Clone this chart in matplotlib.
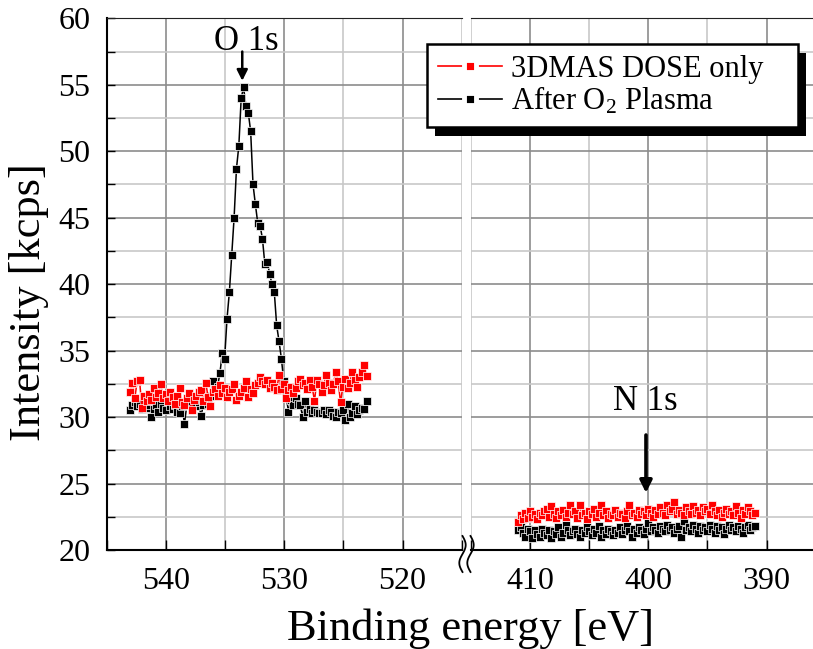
import numpy as np
import matplotlib
matplotlib.use('Agg')
import matplotlib.pyplot as plt
from matplotlib.lines import Line2D
from matplotlib.patches import Rectangle
from matplotlib.ticker import MultipleLocator

plt.rcParams['font.family'] = ['Liberation Serif', 'DejaVu Serif']
plt.rcParams['mathtext.default'] = 'regular'

# ---------------- data ----------------
# O 1s region, 0.2 eV step from 543.05 down to 523.05 eV
o1s_energy = np.arange(543.05, 523.0, -0.2)
o1s_dose = [31.9, 32.6, 31.4, 32.7, 32.8, 30.7, 31.6, 31.2, 31.7, 31.3,
            32.2, 31.5, 31.8, 32.5, 31.4, 31.7, 31.2, 31.9, 31.5, 31.0,
            31.6, 32.2, 31.1, 30.9, 31.4, 31.8, 30.5, 31.3, 31.6, 31.9,
            32.0, 31.2, 32.6, 31.5, 30.8, 31.9, 32.1, 31.6, 32.4, 31.8,
            32.2, 31.5, 31.9, 32.1, 32.5, 31.3, 31.6, 31.9, 32.2, 32.7,
            31.5, 32.1, 31.8, 32.4, 32.6, 33.0, 32.7, 32.5, 32.8, 32.2,
            32.6, 32.3, 32.0, 33.2, 32.1, 32.5, 31.4, 32.0, 32.3, 31.8,
            32.2, 32.7, 32.9, 32.4, 32.6, 32.1, 32.8, 32.3, 31.2, 32.8,
            32.5, 31.9, 32.4, 33.2, 32.6, 32.0, 32.5, 33.4, 32.7, 31.1,
            32.3, 32.9, 32.2, 32.6, 33.4, 32.8, 32.3, 33.0, 33.4, 33.9,
            33.1]
o1s_plasma = [30.5, 30.9, 31.1, 30.8, 31.0, 30.6, 31.0, 30.7, 30.9, 30.0,
              30.6, 30.9, 30.4, 31.0, 30.7, 30.5, 31.2, 30.8, 30.6, 30.9,
              30.4, 30.3, 30.8, 29.5, 30.9, 31.0, 30.6, 31.3, 30.8, 31.1,
              30.1, 30.9, 31.2, 31.0, 31.6, 32.7, 31.9, 32.3, 33.3, 34.8,
              34.4, 37.4, 39.4, 42.2, 45.0, 48.7, 50.4, 54.0, 54.8, 53.4,
              52.9, 51.5, 47.5, 46.0, 44.6, 44.4, 43.4, 41.5, 41.7, 40.8,
              40.0, 39.4, 36.9, 35.7, 34.4, 32.7, 31.6, 30.4, 31.3, 30.9,
              31.4, 31.0, 30.9, 30.0, 31.2, 30.4, 30.6, 30.3, 30.5, 30.4,
              30.3, 30.3, 30.5, 30.2, 30.5, 30.4, 30.1, 30.0, 30.4, 30.3,
              30.5, 29.8, 31.0, 30.0, 30.3, 30.8, 30.2, 30.5, 30.7, 30.6,
              31.2]

# N 1s region, 0.2 eV step from 411.0 down to 391.0 eV
n1s_energy = np.arange(411.0, 390.9, -0.2)
n1s_dose = [22.1, 22.6, 22.3, 22.8, 22.4, 22.9, 22.5, 22.7, 22.3, 22.8,
            22.6, 22.9, 23.1, 22.5, 23.3, 22.7, 22.4, 22.9, 22.6, 23.0,
            22.5, 22.8, 23.4, 22.7, 22.9, 22.4, 23.4, 22.6, 22.8, 22.3,
            22.9, 22.7, 23.1, 22.5, 22.8, 23.4, 22.6, 22.9, 22.4, 22.7,
            22.6, 23.0, 22.5, 22.8, 22.7, 22.4, 22.9, 23.4, 22.6, 22.8,
            22.5, 23.0, 22.7, 22.9, 22.6, 23.1, 22.8, 22.5, 23.0, 22.7,
            23.2, 22.8, 22.6, 23.4, 22.9, 23.1, 23.6, 22.7, 23.0, 22.8,
            22.6, 23.2, 22.9, 22.7, 23.3, 22.8, 23.0, 22.6, 23.2, 22.9,
            23.1, 22.7, 23.4, 22.9, 22.6, 23.0, 22.5, 22.8, 23.1, 22.7,
            22.9, 22.6, 23.3, 22.8, 22.4, 23.0, 22.7, 23.2, 22.9, 22.6,
            22.8]
n1s_plasma = [21.5, 21.7, 21.3, 21.0, 21.6, 21.4, 20.9, 21.5, 21.2, 21.0,
              21.6, 21.3, 21.1, 21.5, 20.9, 21.4, 21.2, 21.7, 21.0, 21.3,
              21.9, 21.5, 21.1, 21.4, 21.6, 21.2, 21.0, 21.5, 21.3, 21.7,
              21.4, 21.1, 21.6, 21.3, 21.8, 21.0, 21.5, 21.2, 21.6, 21.4,
              21.1, 21.5, 21.3, 21.7, 21.2, 21.5, 21.8, 21.4, 21.0, 21.6,
              21.3, 21.7, 21.5, 21.2, 21.6, 22.0, 21.4, 21.7, 21.5, 21.3,
              21.8, 21.6, 21.4, 21.9, 21.5, 21.7, 21.3, 21.6, 21.8, 21.0,
              22.2, 21.5, 21.7, 21.4, 21.9, 21.6, 21.3, 21.8, 21.5, 21.7,
              21.4, 21.9, 21.6, 21.3, 21.8, 21.5, 21.7, 21.2, 21.6, 21.9,
              21.5, 21.7, 21.4, 21.8, 21.6, 21.3, 21.7, 21.9, 21.5, 21.75,
              21.8]

labels = ['3DMAS DOSE only', 'After O$_2$ Plasma']
colors = ['#ff0000', '#000000']

# ---------------- figure ----------------
W, H = 813, 649
fig = plt.figure(figsize=(W / 100, H / 100), dpi=100)
bot = (H - 550) / H
hgt = (550 - 18.3) / H
axL = fig.add_axes([107 / W, bot, 354.7 / W, hgt])
axR = fig.add_axes([471 / W, bot, 354.7 / W, hgt])

mk = dict(marker='s', ms=5.4, mec='white', mew=0.5, lw=1.1)
axL.plot(o1s_energy, o1s_plasma, color=colors[1], zorder=3, **mk)
axL.plot(o1s_energy, o1s_dose, color=colors[0], zorder=4, **mk)
axR.plot(n1s_energy, n1s_plasma, color=colors[1], zorder=3, **mk)
axR.plot(n1s_energy, n1s_dose, color=colors[0], zorder=4, **mk)

axL.set_xlim(545, 515)
axR.set_xlim(415, 385)
for ax in (axL, axR):
    ax.set_ylim(20, 60)
    ax.xaxis.set_major_locator(MultipleLocator(10))
    ax.xaxis.set_minor_locator(MultipleLocator(5))
    ax.yaxis.set_major_locator(MultipleLocator(5))
    ax.yaxis.set_minor_locator(MultipleLocator(2.5))
    ax.grid(which='major', color='#8c8c8c', lw=1.2, zorder=0)
    ax.grid(which='minor', color='#c8c8c8', lw=1.2, zorder=0)
    ax.set_axisbelow(True)
    ax.tick_params(axis='x', which='both', direction='in', length=7,
                   width=1, labelsize=23, pad=12, top=False)
    ax.spines['top'].set_color('#222222')
    ax.spines['bottom'].set_linewidth(1.5)
    ax.spines['right'].set_visible(False)

axL.tick_params(axis='y', which='both', direction='in', length=6,
                width=1, labelsize=23, pad=12, right=False)
axL.spines['left'].set_linewidth(1.5)
axR.spines['left'].set_visible(False)
axR.tick_params(axis='y', which='both', left=False, labelleft=False)

# peak labels and arrows
axL.text(533.2, 57.6, 'O 1s', fontsize=25, ha='center', va='baseline')
axL.annotate('', xy=(533.56, 55.3), xytext=(533.56, 57.5),
             arrowprops=dict(arrowstyle='-|>', color='k', lw=1.8,
                             mutation_scale=16, shrinkA=0, shrinkB=0))
axR.text(400.25, 30.5, 'N 1s', fontsize=25, ha='center', va='baseline')
axR.annotate('', xy=(400.2, 24.3), xytext=(400.2, 28.65),
             arrowprops=dict(arrowstyle='-|>', color='k', lw=2.6,
                             mutation_scale=18, shrinkA=0, shrinkB=0))

# axis labels
fig.text(470 / W, 1 - 629 / H, 'Binding energy [eV]', fontsize=32,
         ha='center', va='center')
fig.text(29 / W, 1 - 302 / H, 'Intensity [kcps]', fontsize=32,
         ha='center', va='center', rotation=90)

# axis break marks
t = np.linspace(0, 1, 40)
for x0 in (462.5, 470.5):
    xs = x0 + 3.2 * np.sin(2 * np.pi * t)
    ys = 536 + 36 * t
    fig.add_artist(Line2D(xs / W, 1 - ys / H, color='k', lw=1.3,
                          transform=fig.transFigure))

# legend with a solid black drop shadow
handles = [Line2D([], [], color=c, lw=1.2, marker='s', ms=8.5, mec='white',
                  mew=3.5) for c in colors]
leg = fig.legend(handles, labels, loc='upper left',
                 bbox_to_anchor=(427 / W, 1 - 128 / H, 371 / W, 84 / H),
                 mode='expand', borderaxespad=0, fontsize=22,
                 handlelength=2.1, handletextpad=0.3, labelspacing=0.05,
                 borderpad=0.35, fancybox=False, framealpha=1,
                 edgecolor='k')
leg.get_frame().set_linewidth(1.8)
fig.canvas.draw()
bb = leg.get_window_extent().transformed(fig.transFigure.inverted())
fig.add_artist(Rectangle((bb.x0 + 8 / W, bb.y0 - 9 / H), bb.width, bb.height,
                         transform=fig.transFigure, facecolor='k',
                         edgecolor='none', zorder=4))

fig.savefig('out.png', dpi=100)
